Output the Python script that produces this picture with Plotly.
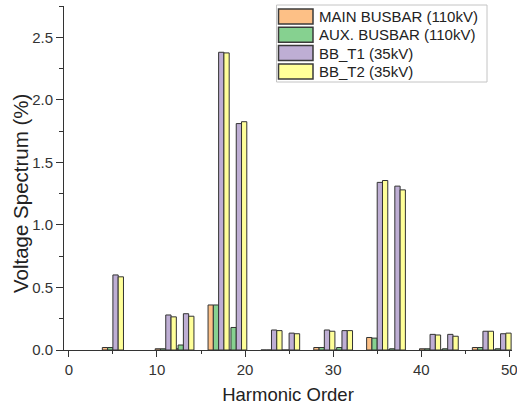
import plotly.graph_objects as go

harmonics = [5, 11, 13, 17, 19, 23, 25, 29, 31, 35, 37, 41, 43, 47, 49]
main_busbar = [0.02, 0.01, 0.01, 0.36, 0.0, 0.0, 0.0, 0.02, 0.0, 0.10, 0.0, 0.01, 0.0, 0.02, 0.0]
aux_busbar = [0.02, 0.01, 0.04, 0.36, 0.18, 0.0, 0.0, 0.02, 0.02, 0.095, 0.01, 0.01, 0.01, 0.02, 0.01]
bb_t1 = [0.60, 0.28, 0.29, 2.38, 1.81, 0.16, 0.135, 0.16, 0.155, 1.34, 1.31, 0.125, 0.125, 0.15, 0.13]
bb_t2 = [0.585, 0.265, 0.27, 2.375, 1.825, 0.155, 0.13, 0.15, 0.155, 1.355, 1.28, 0.12, 0.11, 0.15, 0.135]

names = ["MAIN BUSBAR (110kV)", "AUX. BUSBAR (110kV)", "BB_T1 (35kV)", "BB_T2 (35kV)"]
colors = ["#fdc086", "#86d190", "#beaed4", "#ffff99"]
offsets = [-1.2, -0.6, 0.0, 0.6]
values = [main_busbar, aux_busbar, bb_t1, bb_t2]
y_title = "Voltage Spectrum (%)"
x_title = "Harmonic Order"

W, H = 517, 405
L, R, T, B = 64, 512, 6, 350

fig = go.Figure()
for name, vals, color, off in zip(names, values, colors, offsets):
    fig.add_trace(go.Bar(
        x=harmonics, y=vals, name=name,
        width=0.6, offset=off,
        marker=dict(color=color, line=dict(color="#333333", width=1)),
        showlegend=False,
    ))


def pxx(xp):
    return (xp - L) / (R - L)


def pyy(yp):
    return (B - yp) / (B - T)


shapes = []
annotations = []
# legend box
shapes.append(dict(type="rect", xref="paper", yref="paper",
                   x0=pxx(276.5), x1=pxx(487), y0=pyy(82), y1=pyy(5),
                   line=dict(color="#c4c4c4", width=1), fillcolor="white", layer="above"))
for i, (name, color) in enumerate(zip(names, colors)):
    yc = 16.5 + i * 18.3
    shapes.append(dict(type="rect", xref="paper", yref="paper",
                       x0=pxx(278.5), x1=pxx(313), y0=pyy(yc + 7.5), y1=pyy(yc - 7.5),
                       line=dict(color="#3a3a3a", width=1.5), fillcolor=color, layer="above"))
    annotations.append(dict(xref="paper", yref="paper", x=pxx(317), y=pyy(yc),
                            xanchor="left", yanchor="middle", showarrow=False,
                            text=name, font=dict(size=15, color="#222222")))

# y-axis title (placed to match the original's vertical centring)
annotations.append(dict(xref="paper", yref="paper", x=pxx(20), y=pyy(194),
                        xanchor="center", yanchor="middle", showarrow=False,
                        textangle=-90, text=y_title,
                        font=dict(size=20.5, color="#222222")))

fig.update_layout(
    width=W, height=H,
    barmode="overlay",
    plot_bgcolor="white", paper_bgcolor="white",
    margin=dict(l=L, r=W - R, t=T, b=H - B, autoexpand=False),
    font=dict(family="Liberation Sans, Arial, sans-serif", color="#333333"),
    showlegend=False,
    shapes=shapes,
    annotations=annotations,
)
fig.update_xaxes(
    range=[-0.55, 50.3], automargin=False,
    tickmode="linear", tick0=0, dtick=10,
    ticks="outside", ticklen=6, tickcolor="#333333", tickwidth=1,
    minor=dict(ticks="outside", ticklen=3, dtick=5, tick0=0, tickcolor="#333333"),
    showline=True, linecolor="#333333", linewidth=1,
    showgrid=False, zeroline=False,
    ticklabeloverflow="allow",
    tickfont=dict(size=15, color="#333333"),
    title=dict(text=x_title, font=dict(size=18.5, color="#222222"), standoff=11),
)
fig.update_yaxes(
    range=[0, 2.75], automargin=False,
    tickmode="linear", tick0=0, dtick=0.5, tickformat=".1f",
    ticks="outside", ticklen=7, tickcolor="#333333", tickwidth=1,
    minor=dict(ticks="outside", ticklen=4, dtick=0.25, tick0=0, tickcolor="#333333"),
    showline=True, linecolor="#333333", linewidth=1,
    showgrid=False, zeroline=False,
    tickfont=dict(size=15, color="#333333"),
)

fig.write_html("out.html",
               config={"displayModeBar": False},
               post_script="document.body.style.margin='0px';document.body.style.overflow='hidden';")
